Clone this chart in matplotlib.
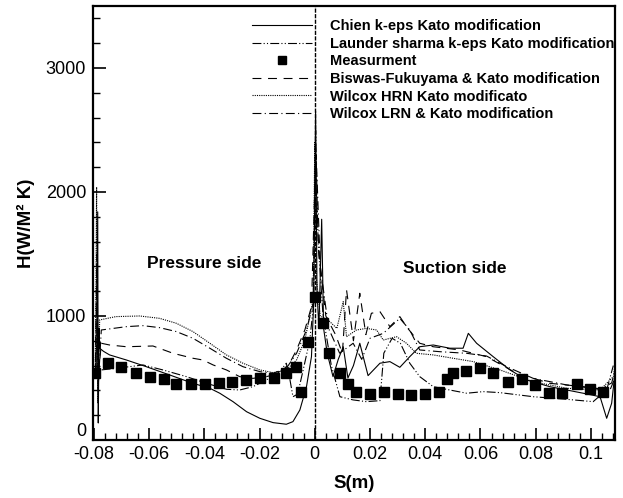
import numpy as np
import matplotlib
matplotlib.use("Agg")
import matplotlib.pyplot as plt
from matplotlib.ticker import MultipleLocator

plt.rcParams['font.family'] = ['Liberation Sans', 'DejaVu Sans']

# measured heat transfer coefficient
s_meas = [-0.0797, -0.0749, -0.0700, -0.0649, -0.0598, -0.0547, -0.0501, -0.0449,
          -0.0399, -0.0348, -0.0300, -0.0250, -0.0199, -0.0149, -0.0103, -0.0069,
          -0.0051, -0.0024, 0.0000, 0.0028, 0.0052, 0.0091, 0.0121, 0.0149, 0.0199,
          0.0250, 0.0300, 0.0348, 0.0399, 0.0449, 0.0477, 0.0499, 0.0546, 0.0598,
          0.0646, 0.0698, 0.0749, 0.0797, 0.0848, 0.0897, 0.0948, 0.0996, 0.1045]
h_meas = [538, 623, 591, 543, 510, 492, 452, 452, 452, 462, 470, 484, 498, 502, 543,
          591, 388, 793, 1150, 946, 699, 543, 452, 385, 371, 385, 371, 363, 371, 385,
          492, 538, 559, 579, 543, 470, 490, 444, 377, 377, 449, 414, 385]

# Chien k-eps
s_chien = [-0.0790, -0.0786, -0.0784, -0.0781, -0.0779, -0.0765, -0.0743, -0.0682,
           -0.0610, -0.0525, -0.0441, -0.0380, -0.0344, -0.0296, -0.0247, -0.0199,
           -0.0151, -0.0103, -0.0079, -0.0054, -0.0030, -0.0012, -0.0004, 0.0003,
           0.0008, 0.0015, 0.0025, 0.0032, 0.0045, 0.0066, 0.0085, 0.0103, 0.0120,
           0.0140, 0.0163, 0.0193, 0.0236, 0.0272, 0.0308, 0.0344, 0.0380, 0.0429,
           0.0489, 0.0537, 0.0556, 0.0586, 0.0646, 0.0707, 0.0767, 0.0851, 0.0972,
           0.1033, 0.1057, 0.1075, 0.1087]
h_chien = [500, 1840, 137, 900, 740, 715, 686, 645, 591, 524, 457, 417, 377, 309, 228,
           175, 140, 127, 148, 242, 430, 672, 1100, 2650, 1200, 900, 1780, 900, 700,
           511, 650, 752, 500, 600, 780, 519, 619, 632, 586, 672, 752, 766, 740, 740,
           860, 780, 672, 565, 484, 430, 377, 349, 175, 296, 540]

# Launder sharma k-eps
s_launder = [-0.0795, -0.0788, -0.0783, -0.0773, -0.0718, -0.0622, -0.0550, -0.0465,
             -0.0392, -0.0320, -0.0272, -0.0224, -0.0175, -0.0127, -0.0103, -0.0091,
             -0.0079, -0.0062, -0.0042, -0.0018, -0.0004, 0.0003, 0.0012, 0.0030,
             0.0060, 0.0091, 0.0139, 0.0187, 0.0236, 0.0250, 0.0280, 0.0310, 0.0344,
             0.0380, 0.0429, 0.0489, 0.0550, 0.0610, 0.0670, 0.0791, 0.0912, 0.1008,
             0.1057, 0.1081]
h_launder = [550, 900, 560, 565, 578, 605, 565, 511, 457, 409, 403, 430, 484, 551, 619,
             500, 349, 370, 565, 806, 1100, 2500, 1600, 1000, 600, 349, 323, 309, 317,
             700, 820, 780, 619, 511, 430, 403, 377, 390, 382, 349, 328, 309, 403, 600]

# Biswas-Fukuyama
s_biswas = [-0.0795, -0.0788, -0.0784, -0.0773, -0.0743, -0.0682, -0.0586, -0.0513,
            -0.0441, -0.0405, -0.0368, -0.0320, -0.0272, -0.0224, -0.0175, -0.0127,
            -0.0091, -0.0066, -0.0036, -0.0012, 0.0002, 0.0015, 0.0040, 0.0075,
            0.0100, 0.0115, 0.0140, 0.0163, 0.0185, 0.0205, 0.0236, 0.0272, 0.0308,
            0.0332, 0.0380, 0.0429, 0.0525, 0.0622, 0.0731, 0.0851, 0.0972, 0.1069,
            0.1087]
h_biswas = [500, 1300, 500, 780, 766, 752, 758, 699, 659, 645, 605, 565, 511, 497, 511,
            538, 619, 726, 887, 1075, 2200, 1500, 1000, 850, 700, 1210, 800, 1183, 850,
            1022, 1035, 914, 995, 914, 780, 752, 726, 672, 538, 457, 430, 403, 500]

# Wilcox HRN
s_hrn = [-0.0795, -0.0790, -0.0786, -0.0779, -0.0720, -0.0634, -0.0562, -0.0501,
         -0.0441, -0.0380, -0.0320, -0.0260, -0.0199, -0.0151, -0.0103, -0.0066,
         -0.0036, -0.0018, -0.0006, 0.0000, 0.0006, 0.0020, 0.0048, 0.0080, 0.0103,
         0.0115, 0.0151, 0.0187, 0.0224, 0.0248, 0.0296, 0.0332, 0.0368, 0.0429,
         0.0501, 0.0574, 0.0670, 0.0791, 0.0912, 0.1033, 0.1081, 0.1087]
h_hrn = [500, 2040, 300, 968, 995, 1000, 981, 941, 874, 780, 686, 619, 565, 543, 565,
         645, 806, 995, 1129, 2400, 1300, 1000, 968, 900, 1115, 833, 887, 900, 887, 806,
         833, 780, 699, 686, 659, 632, 565, 470, 417, 403, 511, 600]

# Wilcox LRN
s_lrn = [-0.0795, -0.0789, -0.0785, -0.0773, -0.0682, -0.0622, -0.0562, -0.0501,
         -0.0441, -0.0380, -0.0320, -0.0260, -0.0199, -0.0151, -0.0103, -0.0066,
         -0.0030, -0.0006, 0.0005, 0.0020, 0.0050, 0.0090, 0.0139, 0.0170, 0.0200,
         0.0248, 0.0308, 0.0344, 0.0380, 0.0453, 0.0550, 0.0622, 0.0695, 0.0791,
         0.0912, 0.1033, 0.1075, 0.1087]
h_lrn = [500, 1500, 400, 887, 914, 922, 906, 874, 820, 740, 659, 591, 551, 538, 578,
         699, 887, 1102, 2300, 1400, 900, 700, 780, 650, 820, 860, 981, 887, 726, 712,
         699, 677, 591, 497, 444, 409, 460, 560]

fig = plt.figure(figsize=(6.23, 4.98), dpi=100)
ax = fig.add_axes([0.1493, 0.1165, 0.8378, 0.8715])

lw = 0.8
ax.plot(s_chien, h_chien, color='k', lw=lw, ls='-', label='Chien k-eps Kato modification')
ax.plot(s_launder, h_launder, color='k', lw=lw, ls=(0, (8, 2, 1, 2, 1, 2)),
        label='Launder sharma k-eps Kato modification')
ax.plot(s_meas, h_meas, 's', color='k', ms=6.5, ls='none', label='Measurment')
ax.plot(s_biswas, h_biswas, color='k', lw=lw, ls=(0, (8, 6)),
        label='Biswas-Fukuyama & Kato modification')
ax.plot(s_hrn, h_hrn, color='k', lw=lw, ls=(0, (1, 1)), label='Wilcox HRN Kato modificato')
ax.plot(s_lrn, h_lrn, color='k', lw=lw, ls=(0, (8, 3, 1, 3)),
        label='Wilcox LRN & Kato modification')

ax.axvline(0, color='k', lw=1.0, ls=(0, (3, 1)))

ax.set_xlim(-0.0803, 0.1087)
ax.set_ylim(0, 3500)
ax.xaxis.set_major_locator(MultipleLocator(0.02))
ax.xaxis.set_minor_locator(MultipleLocator(0.004))
ax.set_yticks([0, 1000, 2000, 3000])
ax.yaxis.set_minor_locator(MultipleLocator(200))
ax.set_xticks([-0.08, -0.06, -0.04, -0.02, 0, 0.02, 0.04, 0.06, 0.08, 0.1])
ax.set_xticklabels(['-0.08', '-0.06', '-0.04', '-0.02', '0', '0.02', '0.04', '0.06', '0.08', '0.1'])
ax.tick_params(which='both', direction='in', top=False, right=False, labelsize=13)
ax.tick_params(which='major', length=9, width=1.2, pad=5)
ax.tick_params(axis='x', which='major', pad=4)
ax.tick_params(which='minor', length=5, width=1.0)
for sp in ax.spines.values():
    sp.set_linewidth(1.6)

# the "0" on the y axis sits just above the corner, clear of "-0.08"
ax.yaxis.get_major_ticks()[0].label1.set_verticalalignment('bottom')

ax.set_xlabel('S(m)', fontsize=13.5, fontweight='bold', labelpad=9)
ax.set_ylabel('H(W/M² K)', fontsize=13.5, fontweight='bold', labelpad=8)

ax.text(-0.0402, 1427, 'Pressure side', fontsize=12.5, fontweight='bold', ha='center', va='center')
ax.text(0.0507, 1379, 'Suction side', fontsize=12.5, fontweight='bold', ha='center', va='center')

ax.legend(loc='upper left', bbox_to_anchor=(0.3046, 0.970), frameon=False,
          prop={'size': 10.5, 'weight': 'bold'}, handlelength=4.1, handletextpad=1.28,
          labelspacing=0.25, borderpad=0, borderaxespad=0, markerscale=0.85)

fig.savefig('out.png', dpi=100)
